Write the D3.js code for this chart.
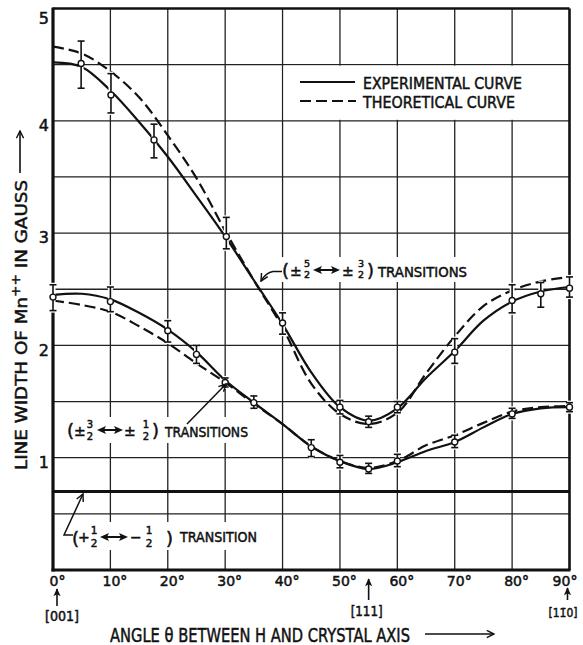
<!DOCTYPE html>
<html>
<head>
<meta charset="utf-8">
<script src="https://cdn.jsdelivr.net/npm/d3@7"></script>
<style>
  body { margin: 0; background: #fff; }
  svg { display: block; }
  text { font-family: "DejaVu Sans", sans-serif; fill: #111; stroke: #111; stroke-width: 0.5px; }
</style>
</head>
<body>
<svg id="chart" width="583" height="645"></svg>
<script>
// ---- axis ticks ----
const thetaTicks = [0, 10, 20, 30, 40, 50, 60, 70, 80, 90];
const widthTicks = [1, 2, 3, 4, 5];
const thetaGrid = [10, 20, 30, 40, 50, 60, 70, 80];
const widthGrid = [0.5, 1, 1.5, 2, 2.5, 3, 3.5, 4, 4.5];

// ---- smooth curves, sampled every 5 degrees ----
const curveTheta = [0, 5, 10, 15, 20, 25, 30, 35, 40, 45, 50, 55, 60, 65, 70, 75, 80, 85, 90];
// (±5/2 <-> ±3/2) transitions
const upperExperimental = [4.52, 4.48, 4.27, 3.99, 3.68, 3.33, 2.97, 2.58, 2.19, 1.76, 1.45, 1.33, 1.44, 1.71, 1.95, 2.22, 2.39, 2.48, 2.52];
const upperTheoretical  = [4.66, 4.60, 4.44, 4.21, 3.87, 3.49, 3.02, 2.58, 2.16, 1.66, 1.39, 1.30, 1.40, 1.75, 2.08, 2.35, 2.49, 2.57, 2.61];
// (±3/2 <-> ±1/2) transitions
const lowerExperimental = [2.45, 2.46, 2.41, 2.29, 2.14, 1.94, 1.69, 1.49, 1.30, 1.10, 0.97, 0.90, 0.96, 1.06, 1.14, 1.27, 1.39, 1.44, 1.45];
const lowerTheoretical  = [2.40, 2.36, 2.30, 2.17, 2.02, 1.84, 1.67, 1.48, 1.30, 1.10, 0.97, 0.91, 0.97, 1.11, 1.20, 1.31, 1.41, 1.45, 1.46];
// (+1/2 <-> -1/2) transition: constant width
const centralWidth = 0.7;

// ---- measured points with error bars ----
const upperPointTheta = [4.9, 10.1, 17.6, 30.2, 40, 50, 55, 60, 70, 80, 85, 90];
const upperPointWidth = [4.51, 4.23, 3.83, 2.97, 2.20, 1.45, 1.32, 1.45, 1.94, 2.40, 2.46, 2.51];
const upperPointLow   = [4.29, 4.07, 3.67, 2.86, 2.10, 1.39, 1.27, 1.40, 1.84, 2.29, 2.34, 2.43];
const upperPointHigh  = [4.71, 4.42, 3.97, 3.14, 2.29, 1.51, 1.37, 1.50, 2.06, 2.54, 2.56, 2.61];

const lowerPointTheta = [0, 10, 20, 25, 30, 35, 45, 50, 55, 60, 70, 80, 90];
const lowerPointWidth = [2.43, 2.39, 2.13, 1.92, 1.67, 1.49, 1.09, 0.96, 0.90, 0.97, 1.14, 1.39, 1.45];
const lowerPointLow   = [2.31, 2.30, 2.03, 1.84, 1.63, 1.44, 1.01, 0.91, 0.86, 0.92, 1.09, 1.35, 1.41];
const lowerPointHigh  = [2.54, 2.52, 2.22, 2.00, 1.71, 1.55, 1.16, 1.02, 0.95, 1.03, 1.20, 1.44, 1.49];

const svg = d3.select("#chart");
const ink = "#111";

const x = d3.scaleLinear().domain([0, 90]).range([53, 569.5]);
const y = d3.scaleLinear().domain([0, 5]).range([570, 8.5]);

// arrowhead markers
const defs = svg.append("defs");
defs.append("marker").attr("id", "open-head")
  .attr("viewBox", "0 0 10 10").attr("refX", 9).attr("refY", 5)
  .attr("markerWidth", 9).attr("markerHeight", 9).attr("markerUnits", "userSpaceOnUse")
  .attr("orient", "auto")
  .append("path").attr("d", "M1,1 L9,5 L1,9").attr("fill", "none").attr("stroke", ink).attr("stroke-width", 1.6);
defs.append("marker").attr("id", "solid-head")
  .attr("viewBox", "0 0 10 10").attr("refX", 9).attr("refY", 5)
  .attr("markerWidth", 9).attr("markerHeight", 8).attr("markerUnits", "userSpaceOnUse")
  .attr("orient", "auto")
  .append("path").attr("d", "M0,0.5 L10,5 L0,9.5 L2.5,5 Z").attr("fill", ink);

// ---- grid ----
const grid = svg.append("g").attr("stroke", "#222").attr("stroke-width", 1.3);
grid.selectAll(".vg").data(thetaGrid).join("line")
  .attr("x1", d => x(d)).attr("x2", d => x(d))
  .attr("y1", y(0)).attr("y2", y(5));
grid.selectAll(".hg").data(widthGrid).join("line")
  .attr("x1", x(0)).attr("x2", x(90))
  .attr("y1", d => y(d)).attr("y2", d => y(d));

// white panels that interrupt the grid behind lettering
const panels = [
  [x(40) + 1, y(4.5) + 1, x(90) - x(40) - 2, y(4) - y(4.5) - 2],
  [272, 257, 200, 25],
  [64, 417, 188, 26],
  [70, 522, 192, 28]
];
svg.append("g").selectAll("rect").data(panels).join("rect")
  .attr("x", d => d[0]).attr("y", d => d[1]).attr("width", d => d[2]).attr("height", d => d[3])
  .attr("fill", "#fff");

// ---- frame ----
const frame = svg.append("g").attr("stroke", ink).attr("fill", "none");
frame.append("line").attr("x1", x(0)).attr("x2", x(90)).attr("y1", y(5)).attr("y2", y(5)).attr("stroke-width", 2.6);
frame.append("line").attr("x1", x(90)).attr("x2", x(90)).attr("y1", y(5)).attr("y2", y(0)).attr("stroke-width", 2.6);
frame.append("line").attr("x1", x(0)).attr("x2", x(0)).attr("y1", y(5) - 1).attr("y2", y(0) + 1.5).attr("stroke-width", 3.2);
frame.append("line").attr("x1", x(0) - 1.5).attr("x2", x(90) + 1).attr("y1", y(0)).attr("y2", y(0)).attr("stroke-width", 3.2);

// ---- axis labels ----
const xAxis = svg.append("g").attr("transform", `translate(0,${y(0)})`)
  .call(d3.axisBottom(x).tickValues(thetaTicks).tickFormat(d => d + "°").tickSize(0).tickPadding(0));
xAxis.select(".domain").remove();
xAxis.selectAll("text").attr("font-size", 14).attr("font-family", "DejaVu Sans")
  .attr("fill", ink).attr("dx", d => d === 90 ? -5 : 4).attr("y", 16).attr("dy", 0);

const yAxis = svg.append("g").attr("transform", `translate(${x(0)},0)`)
  .call(d3.axisLeft(y).tickValues(widthTicks).tickFormat(d3.format("d")).tickSize(0).tickPadding(4));
yAxis.select(".domain").remove();
yAxis.selectAll("text").attr("font-size", 16).attr("font-family", "DejaVu Sans")
  .attr("fill", ink).attr("dy", d => d === 5 ? "0.95em" : "0.6em");

// ---- constant line for the +1/2 <-> -1/2 transition ----
svg.append("line")
  .attr("x1", x(0)).attr("x2", x(90))
  .attr("y1", y(centralWidth)).attr("y2", y(centralWidth))
  .attr("stroke", ink).attr("stroke-width", 3);

// ---- curves ----
const line = d3.line()
  .x((d, i) => x(curveTheta[i]))
  .y(d => y(d))
  .curve(d3.curveCatmullRom.alpha(0.5));

const curves = svg.append("g").attr("fill", "none").attr("stroke", ink).attr("stroke-width", 2.2);
curves.append("path").attr("d", line(upperTheoretical)).attr("stroke-dasharray", "11,5");
curves.append("path").attr("d", line(lowerTheoretical)).attr("stroke-dasharray", "11,5");
curves.append("path").attr("d", line(upperExperimental));
curves.append("path").attr("d", line(lowerExperimental));

// ---- measured points ----
function drawPoints(thetas, widths, lows, highs) {
  const pts = thetas.map((t, i) => ({ t, v: widths[i], lo: lows[i], hi: highs[i] }));
  const g = svg.append("g");
  // white underlay so bars break the lines they cross
  g.selectAll(".under").data(pts).join("line")
    .attr("x1", d => x(d.t)).attr("x2", d => x(d.t))
    .attr("y1", d => y(d.hi) - 2).attr("y2", d => y(d.lo) + 2)
    .attr("stroke", "#fff").attr("stroke-width", 5);
  g.selectAll(".bar").data(pts).join("line")
    .attr("x1", d => x(d.t)).attr("x2", d => x(d.t))
    .attr("y1", d => y(d.hi)).attr("y2", d => y(d.lo))
    .attr("stroke", ink).attr("stroke-width", 1.6);
  g.selectAll(".capHi").data(pts).join("line")
    .attr("x1", d => x(d.t) - 3.5).attr("x2", d => x(d.t) + 3.5)
    .attr("y1", d => y(d.hi)).attr("y2", d => y(d.hi))
    .attr("stroke", ink).attr("stroke-width", 1.6);
  g.selectAll(".capLo").data(pts).join("line")
    .attr("x1", d => x(d.t) - 3.5).attr("x2", d => x(d.t) + 3.5)
    .attr("y1", d => y(d.lo)).attr("y2", d => y(d.lo))
    .attr("stroke", ink).attr("stroke-width", 1.6);
  g.selectAll("circle").data(pts).join("circle")
    .attr("cx", d => x(d.t)).attr("cy", d => y(d.v)).attr("r", 3)
    .attr("fill", "#fff").attr("stroke", ink).attr("stroke-width", 1.4);
}
drawPoints(upperPointTheta, upperPointWidth, upperPointLow, upperPointHigh);
drawPoints(lowerPointTheta, lowerPointWidth, lowerPointLow, lowerPointHigh);

// ---- legend ----
const legend = svg.append("g");
legend.append("line").attr("x1", 300).attr("x2", 355).attr("y1", 82).attr("y2", 82)
  .attr("stroke", ink).attr("stroke-width", 2.2);
legend.append("line").attr("x1", 300).attr("x2", 356).attr("y1", 101).attr("y2", 101)
  .attr("stroke", ink).attr("stroke-width", 2.2).attr("stroke-dasharray", "11,5");
legend.append("text").attr("x", 363).attr("y", 88.5).attr("font-size", 15.5)
  .attr("textLength", 159).attr("lengthAdjust", "spacingAndGlyphs").text("EXPERIMENTAL CURVE");
legend.append("text").attr("x", 363).attr("y", 107.5).attr("font-size", 15.5)
  .attr("textLength", 152).attr("lengthAdjust", "spacingAndGlyphs").text("THEORETICAL CURVE");

// ---- transition labels ----
function txt(g, x0, y0, size, s, len) {
  const t = g.append("text").attr("x", x0).attr("y", y0).attr("font-size", size).text(s);
  if (len) t.attr("textLength", len).attr("lengthAdjust", "spacingAndGlyphs");
  return t;
}
// stacked fraction: numerator over denominator
function frac(g, cx, yNum, yDen, num, den, size) {
  const t = g.append("text").attr("font-size", size).attr("text-anchor", "middle");
  t.append("tspan").attr("x", cx).attr("y", yNum).text(num);
  t.append("tspan").attr("x", cx).attr("y", yDen).text(den);
}
function doubleArrow(g, x1, x2, yy) {
  g.append("line").attr("x1", x1 + 6).attr("x2", x2 - 6).attr("y1", yy).attr("y2", yy)
    .attr("stroke", ink).attr("stroke-width", 2);
  g.append("path").attr("d", `M${x1},${yy} L${x1 + 9},${yy - 4} L${x1 + 7},${yy} L${x1 + 9},${yy + 4} Z`).attr("fill", ink);
  g.append("path").attr("d", `M${x2},${yy} L${x2 - 9},${yy - 4} L${x2 - 7},${yy} L${x2 - 9},${yy + 4} Z`).attr("fill", ink);
}

// (±5/2 <-> ±3/2) TRANSITIONS
const la = svg.append("g");
txt(la, 282, 277, 18, "(");
txt(la, 290, 276, 14, "±");
frac(la, 307, 266.5, 278, "5", "2", 9.5);
doubleArrow(la, 313, 340, 270);
txt(la, 342, 276, 14, "±");
frac(la, 361, 266.5, 278, "3", "2", 9.5);
txt(la, 367, 277, 18, ")");
txt(la, 378, 276.5, 14, "TRANSITIONS", 89);
la.append("path").attr("d", "M282,271.5 L273,271.5 Q266,272.5 261,281")
  .attr("fill", "none").attr("stroke", ink).attr("stroke-width", 1.5).attr("marker-end", "url(#open-head)");

// (±3/2 <-> ±1/2) TRANSITIONS
const lb = svg.append("g");
txt(lb, 67, 437, 18, "(");
txt(lb, 74, 436, 14, "±");
frac(lb, 90, 427.5, 439.5, "3", "2", 10);
doubleArrow(lb, 97, 123, 430);
txt(lb, 124, 436, 14, "±");
frac(lb, 146, 427.5, 439.5, "1", "2", 10);
txt(lb, 152, 437, 18, ")");
txt(lb, 165, 437, 14, "TRANSITIONS", 83);
lb.append("line").attr("x1", 187).attr("y1", 424).attr("x2", 226).attr("y2", 384)
  .attr("stroke", ink).attr("stroke-width", 1.5).attr("marker-end", "url(#open-head)");

// (+1/2 <-> -1/2) TRANSITION
const lc = svg.append("g");
txt(lc, 72, 545, 18, "(");
txt(lc, 78, 541.5, 14, "+");
frac(lc, 94, 533.5, 546.5, "1", "2", 10.5);
doubleArrow(lc, 100, 128, 537);
txt(lc, 130, 541.5, 14, "−");
frac(lc, 149, 533.5, 546.5, "1", "2", 10.5);
txt(lc, 166, 545, 18, ")");
txt(lc, 180, 542, 14, "TRANSITION", 77);
lc.append("path").attr("d", "M73,535 L64,535 L83,494")
  .attr("fill", "none").attr("stroke", ink).attr("stroke-width", 1.5).attr("marker-end", "url(#open-head)");

// ---- crystal directions under the angle axis ----
const dirs = svg.append("g");
[[0, 606, 589], [55, 600, 579], [90, 600, 588]].forEach(([t, y1, y2], i) => {
  const dx = i === 0 ? 4 : (i === 2 ? -2 : 0);
  dirs.append("line").attr("x1", x(t) + dx).attr("x2", x(t) + dx).attr("y1", y1).attr("y2", y2)
    .attr("stroke", ink).attr("stroke-width", 1.6).attr("marker-end", "url(#solid-head)");
});
dirs.append("text").attr("x", 62).attr("y", 621).attr("font-size", 13.5).attr("text-anchor", "middle")
  .attr("textLength", 34).attr("lengthAdjust", "spacingAndGlyphs").text("[001]");
dirs.append("text").attr("x", x(55) - 2).attr("y", 616).attr("font-size", 13.5).attr("text-anchor", "middle")
  .attr("textLength", 32).attr("lengthAdjust", "spacingAndGlyphs").text("[111]");
dirs.append("text").attr("x", 563).attr("y", 617).attr("font-size", 12.5).attr("text-anchor", "middle")
  .attr("textLength", 29).attr("lengthAdjust", "spacingAndGlyphs").text("[11\u03040]");

// ---- axis titles ----
svg.append("text").attr("x", 110).attr("y", 642).attr("font-size", 19)
  .attr("textLength", 300).attr("lengthAdjust", "spacingAndGlyphs")
  .text("ANGLE θ BETWEEN H AND CRYSTAL AXIS");
svg.append("line").attr("x1", 425).attr("x2", 494).attr("y1", 634).attr("y2", 634)
  .attr("stroke", ink).attr("stroke-width", 1.6).attr("marker-end", "url(#open-head)");

const yTitle = svg.append("text").attr("transform", "translate(26.5,470) rotate(-90)")
  .attr("font-size", 16).attr("textLength", 290).attr("lengthAdjust", "spacingAndGlyphs");
yTitle.append("tspan").text("LINE WIDTH OF Mn");
yTitle.append("tspan").attr("dy", -7).attr("font-size", 12).text("++");
yTitle.append("tspan").attr("dy", 7).text(" IN GAUSS");
svg.append("line").attr("x1", 20).attr("x2", 20).attr("y1", 173).attr("y2", 131)
  .attr("stroke", ink).attr("stroke-width", 1.6).attr("marker-end", "url(#open-head)");
</script>
</body>
</html>
